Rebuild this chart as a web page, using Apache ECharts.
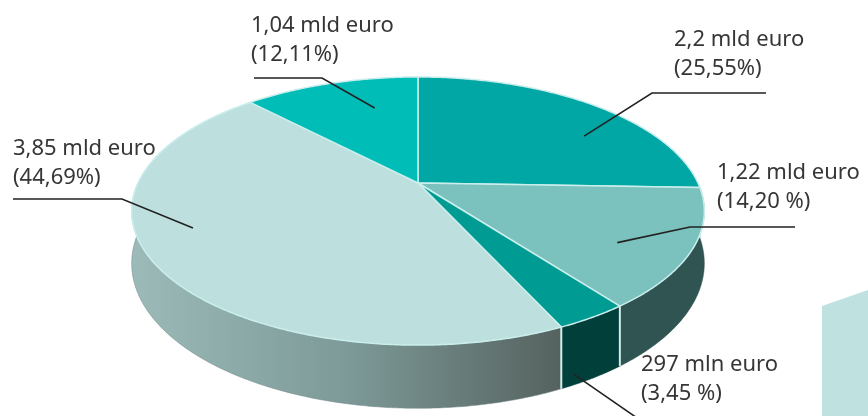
<!DOCTYPE html>
<html>
<head>
<meta charset="utf-8">
<script src="https://cdn.jsdelivr.net/npm/echarts@6/dist/echarts.min.js"></script>
<style>
html,body{margin:0;padding:0;background:#fff;}
#chart{width:868px;height:416px;}
</style>
</head>
<body>
<div id="chart"></div>
<script>
// ---- data (clockwise from 12 o'clock) ----
const amountLabels = ['2,2 mld euro', '1,22 mld euro', '297 mln euro', '3,85 mld euro', '1,04 mld euro'];
const percentLabels = ['(25,55%)', '(14,20 %)', '(3,45 %)', '(44,69%)', '(12,11%)'];
const shares = [25.55, 14.20, 3.45, 44.69, 12.11];

// ---- styles / layout ----
const topColors = ['#00a7a5', '#7bc1bd', '#009b92', '#bde0df', '#00bdb8'];
const sideColors = ['#006d6b', '#2f5452', '#003f3a',
  {type: 'linear', x: 0, y: 0, x2: 1, y2: 0, colorStops: [
    {offset: 0, color: '#9bbab8'}, {offset: 0.5, color: '#7d9a98'}, {offset: 1, color: '#55625f'}]},
  '#007f7b'];
// perspective disc geometry
const CX = 418, CY = 183, A = 280, B = 128.2, K = 0.209, D = 50;
// label layout: anchor in slice (fraction of slice angle, radius, depth), elbow, end, text pos
const labelLayout = [
  {frac: 0.634, rho: 0.755, h: 0, elbow: [652, 93], end: [766, 93], text: [674, 25]},
  {frac: 0.61, rho: 0.775, h: 0, elbow: [690, 227], end: [795, 227], text: [717, 158]},
  {frac: 0.8, rho: 1, h: 0.83, elbow: null, end: [640, 420], text: [641, 350]},
  {frac: 0.565, rho: 0.817, h: 0, elbow: [122, 199], end: [13, 199], text: [13, 134]},
  {frac: 0.66, rho: 0.689, h: 0, elbow: [322, 78], end: [254, 78], text: [251, 11]}
];

const total = shares.reduce((a, b) => a + b, 0);
const starts = [];
{ let acc = 0; shares.forEach(v => { starts.push(acc / total * Math.PI * 2); acc += v; }); }

function proj(theta, rho, h) {
  const u = rho * Math.sin(theta), v = -rho * Math.cos(theta);
  const s = 1 / (1 - K * v);
  return [CX + A * u * s, CY + B * v * s + h * D * s];
}
function arc(t1, t2, h) {
  const pts = [];
  const n = Math.max(2, Math.ceil((t2 - t1) / (Math.PI / 360)));
  for (let j = 0; j <= n; j++) pts.push(proj(t1 + (t2 - t1) * j / n, 1, h));
  return pts;
}

function renderSide(params, api) {
  const i = params.dataIndex;
  const t1 = starts[i], t2 = t1 + api.value(0) / total * Math.PI * 2;
  const a = Math.max(t1, Math.PI / 2), b = Math.min(t2, Math.PI * 1.5);
  const children = [];
  if (b > a) {
    const top = arc(a, b, 0), bot = arc(a, b, 1).reverse();
    children.push({type: 'polygon', shape: {points: top.concat(bot)},
      style: {fill: sideColors[i], stroke: typeof sideColors[i] === 'string' ? sideColors[i] : '#6f8785', lineWidth: 0.5}});
    if (t1 > Math.PI / 2 && t1 < Math.PI * 1.5) {
      const p = proj(t1, 1, 0), q = proj(t1, 1, 1);
      children.push({type: 'line', shape: {x1: p[0], y1: p[1], x2: q[0], y2: q[1]},
        style: {stroke: '#d4ecea', lineWidth: 2}, z2: 5});
    }
  }
  return {type: 'group', children};
}

function renderTop(params, api) {
  const i = params.dataIndex;
  const t1 = starts[i], t2 = t1 + api.value(0) / total * Math.PI * 2;
  const pts = [proj(0, 0, 0)].concat(arc(t1, t2, 0));
  return {type: 'polygon', shape: {points: pts},
    style: {fill: topColors[i], stroke: '#c9eeec', lineWidth: 1.5, lineJoin: 'round'}};
}

const graphics = [
  {type: 'polygon', shape: {points: [[822, 306], [868, 290], [868, 416], [822, 416]]},
   style: {fill: '#bfe1df'}, z: 0}
];
shares.forEach((v, i) => {
  const L = labelLayout[i];
  const t1 = starts[i], t2 = t1 + v / total * Math.PI * 2;
  const anchor = proj(t1 + (t2 - t1) * L.frac, L.rho, L.h);
  const pts = [anchor];
  if (L.elbow) pts.push(L.elbow);
  pts.push(L.end);
  graphics.push({type: 'polyline', shape: {points: pts},
    style: {stroke: '#222', lineWidth: 1.6, fill: null}, z: 10});
  graphics.push({type: 'text', x: L.text[0], y: L.text[1], z: 10,
    style: {text: amountLabels[i] + '\n' + percentLabels[i], fill: '#363636',
      font: '22px "Noto Sans"', lineHeight: 29, textAlign: 'left', textVerticalAlign: 'top'}});
});

const chart = echarts.init(document.getElementById('chart'), null, {renderer: 'canvas'});
chart.setOption({
  animation: false,
  backgroundColor: '#ffffff',
  series: [
    {type: 'custom', coordinateSystem: 'none', renderItem: renderSide, z: 1,
     data: shares.map((v, i) => [v, i]), silent: true},
    {type: 'custom', coordinateSystem: 'none', renderItem: renderTop, z: 2,
     data: shares.map((v, i) => [v, i]), silent: true}
  ],
  graphic: graphics
});
</script>
</body>
</html>
